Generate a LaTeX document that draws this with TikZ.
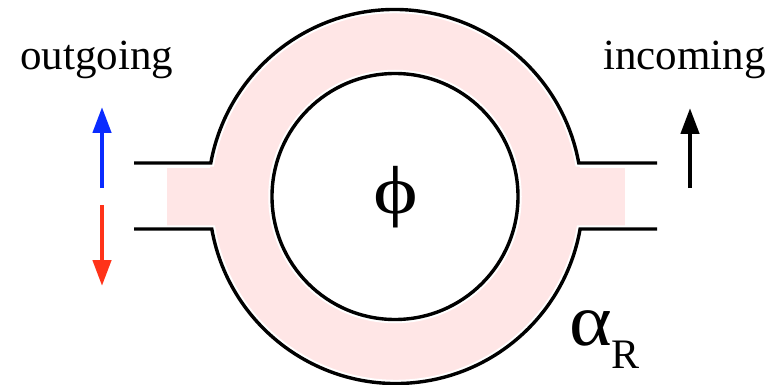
\documentclass[tikz,border=0pt]{standalone}
\usepackage{fontspec}
\setmainfont{Liberation Serif}
\usetikzlibrary{arrows.meta}
\definecolor{ringpink}{HTML}{FFE6E6}
\definecolor{arrblue}{HTML}{0A2BFF}
\definecolor{arrred}{HTML}{FF3319}
\begin{document}
\begin{tikzpicture}[x=1pt,y=-1pt,
  outline/.style={line width=3.4pt,black},
  halo/.style={line width=7.5pt,white},
  sigarrow/.style={line width=4.5pt,-{Triangle[length=26pt,width=18pt]}},
  lbl/.style={inner sep=0pt,font=\fontsize{43}{50}\selectfont}]
\useasboundingbox (0,0) rectangle (774,385);
% pink ring and arms
\fill[ringpink] (395,196.5) circle[radius=187];
\fill[ringpink] (167,168) rectangle (300,227);
\fill[ringpink] (490,168) rectangle (625,227);
\fill[white] (395,196.5) circle[radius=123];
% outlines with white halo
\coordinate (c) at (395,196.5);
\foreach \s in {halo,outline}{
  \draw[\s] (c) circle[radius=123];
  \draw[\s] (134,163) -- (210.8,163) arc[start angle={180+asin(33.5/187)},end angle={360-asin(33.5/187)},radius=187] -- (657,163);
  \draw[\s] (134,229) -- (211.8,229) arc[start angle={180-asin(32.5/187)},end angle={asin(32.5/187)},radius=187] -- (657,229);
}
% arrows
\coordinate (bt) at (102,188); \coordinate (bh) at (102,107);
\coordinate (rt) at (102,205); \coordinate (rh) at (102,286);
\coordinate (kt) at (690,188); \coordinate (kh) at (690,108);
\draw[sigarrow,arrblue] (bt) -- (bh);
\draw[sigarrow,arrred] (rt) -- (rh);
\draw[sigarrow,black] (kt) -- (kh);
% labels
\node[lbl,anchor=base west] (out) at (20,70) {outgoing};
\node[lbl,anchor=base west] (in) at (603,70) {incoming};
\node[inner sep=0pt,xscale=1.25,font=\fontsize{68}{72}\selectfont] (phi) at (396,197) {ϕ};
\node[inner sep=0pt,anchor=base west,xscale=1.1,font=\fontsize{74}{80}\selectfont] (alpha) at (569,345) {α};
\node[inner sep=0pt,anchor=base west,font=\fontsize{42}{48}\selectfont] (R) at (611,368) {R};
\end{tikzpicture}
\end{document}
